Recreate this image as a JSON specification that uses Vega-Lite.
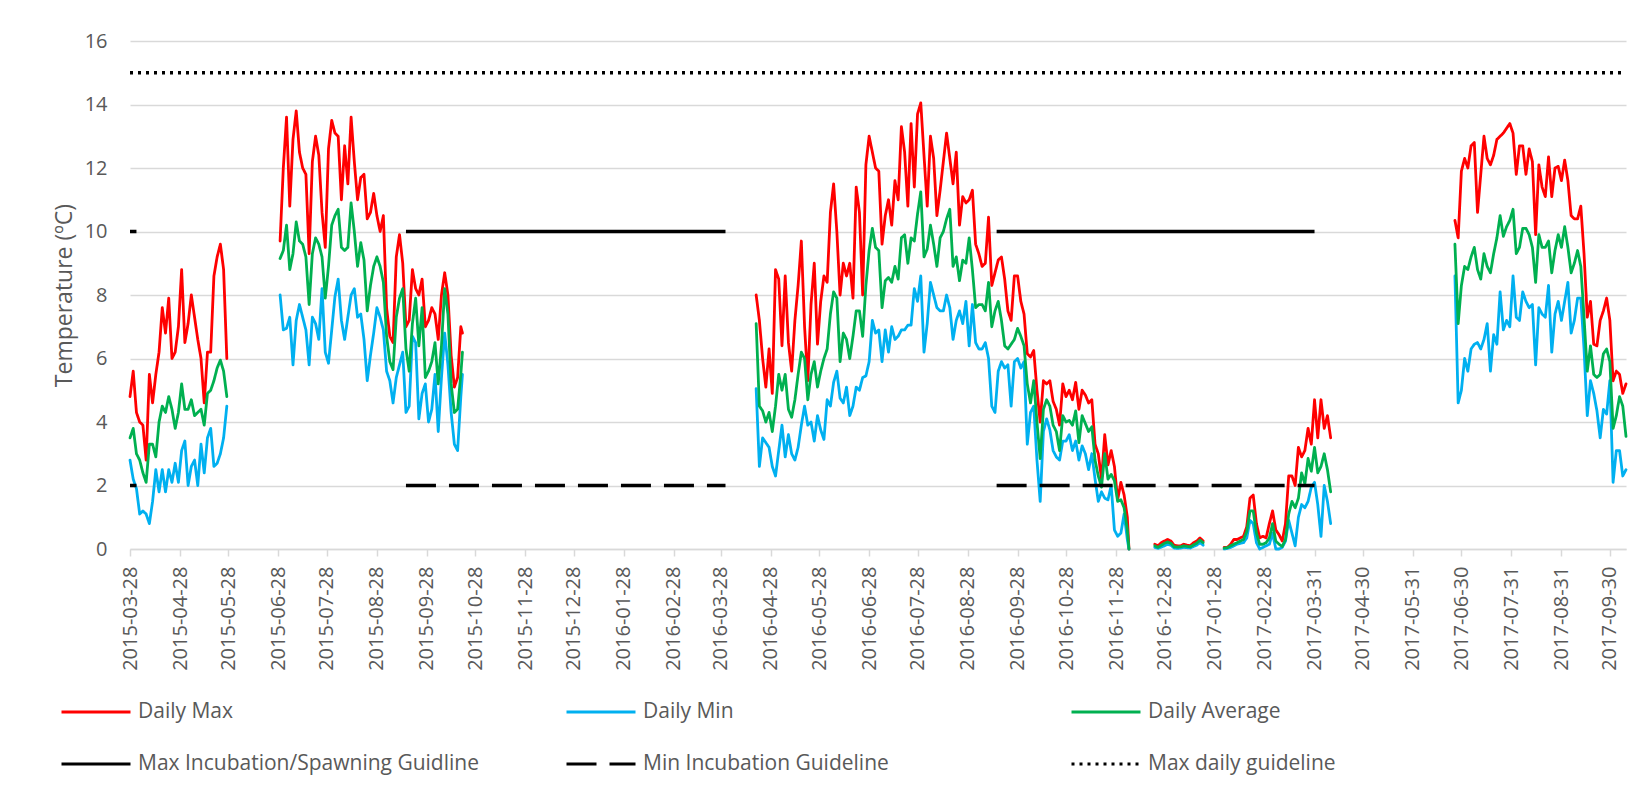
{
  "$schema": "https://vega.github.io/schema/vega-lite/v6.json",
  "width": 1496,
  "height": 508,
  "autosize": {"type": "none"},
  "padding": {"left": 130, "top": 41, "right": 12, "bottom": 242},
  "background": "white",
  "datasets": {
    "t": [
      {"d":"2015-03-28","mx":4.8,"mn":2.8,"av":3.5,"seg":1},
      {"d":"2015-03-30","mx":5.6,"mn":2.2,"av":3.8,"seg":1},
      {"d":"2015-04-01","mx":4.3,"mn":1.9,"av":3.0,"seg":1},
      {"d":"2015-04-03","mx":4.0,"mn":1.1,"av":2.8,"seg":1},
      {"d":"2015-04-05","mx":3.9,"mn":1.2,"av":2.4,"seg":1},
      {"d":"2015-04-07","mx":2.8,"mn":1.1,"av":2.1,"seg":1},
      {"d":"2015-04-09","mx":5.5,"mn":0.8,"av":3.3,"seg":1},
      {"d":"2015-04-11","mx":4.6,"mn":1.5,"av":3.3,"seg":1},
      {"d":"2015-04-13","mx":5.5,"mn":2.5,"av":2.9,"seg":1},
      {"d":"2015-04-15","mx":6.2,"mn":1.8,"av":4.0,"seg":1},
      {"d":"2015-04-17","mx":7.6,"mn":2.5,"av":4.5,"seg":1},
      {"d":"2015-04-19","mx":6.8,"mn":1.8,"av":4.3,"seg":1},
      {"d":"2015-04-21","mx":7.9,"mn":2.5,"av":4.8,"seg":1},
      {"d":"2015-04-23","mx":6.0,"mn":2.1,"av":4.4,"seg":1},
      {"d":"2015-04-25","mx":6.2,"mn":2.7,"av":3.8,"seg":1},
      {"d":"2015-04-27","mx":7.0,"mn":2.1,"av":4.3,"seg":1},
      {"d":"2015-04-29","mx":8.8,"mn":3.1,"av":5.2,"seg":1},
      {"d":"2015-05-01","mx":6.5,"mn":3.4,"av":4.4,"seg":1},
      {"d":"2015-05-03","mx":7.1,"mn":2.0,"av":4.4,"seg":1},
      {"d":"2015-05-05","mx":8.0,"mn":2.6,"av":4.7,"seg":1},
      {"d":"2015-05-07","mx":7.3,"mn":2.8,"av":4.2,"seg":1},
      {"d":"2015-05-09","mx":6.6,"mn":2.0,"av":4.3,"seg":1},
      {"d":"2015-05-11","mx":6.0,"mn":3.3,"av":4.4,"seg":1},
      {"d":"2015-05-13","mx":4.6,"mn":2.4,"av":3.9,"seg":1},
      {"d":"2015-05-15","mx":6.2,"mn":3.5,"av":4.9,"seg":1},
      {"d":"2015-05-17","mx":6.2,"mn":3.8,"av":5.0,"seg":1},
      {"d":"2015-05-19","mx":8.6,"mn":2.6,"av":5.3,"seg":1},
      {"d":"2015-05-21","mx":9.2,"mn":2.7,"av":5.7,"seg":1},
      {"d":"2015-05-23","mx":9.6,"mn":3.0,"av":5.95,"seg":1},
      {"d":"2015-05-25","mx":8.8,"mn":3.5,"av":5.6,"seg":1},
      {"d":"2015-05-27","mx":6.0,"mn":4.5,"av":4.8,"seg":1},
      {"d":"2015-06-29","mx":9.7,"mn":8.0,"av":9.15,"seg":2},
      {"d":"2015-07-01","mx":12.0,"mn":6.9,"av":9.4,"seg":2},
      {"d":"2015-07-03","mx":13.6,"mn":6.95,"av":10.2,"seg":2},
      {"d":"2015-07-05","mx":10.8,"mn":7.3,"av":8.8,"seg":2},
      {"d":"2015-07-07","mx":12.9,"mn":5.8,"av":9.3,"seg":2},
      {"d":"2015-07-09","mx":13.8,"mn":7.2,"av":10.3,"seg":2},
      {"d":"2015-07-11","mx":12.5,"mn":7.7,"av":9.7,"seg":2},
      {"d":"2015-07-13","mx":12.0,"mn":7.3,"av":9.6,"seg":2},
      {"d":"2015-07-15","mx":11.8,"mn":6.9,"av":9.2,"seg":2},
      {"d":"2015-07-17","mx":9.3,"mn":5.8,"av":7.7,"seg":2},
      {"d":"2015-07-19","mx":12.2,"mn":7.3,"av":9.3,"seg":2},
      {"d":"2015-07-21","mx":13.0,"mn":7.1,"av":9.8,"seg":2},
      {"d":"2015-07-23","mx":12.4,"mn":6.6,"av":9.6,"seg":2},
      {"d":"2015-07-25","mx":10.6,"mn":8.2,"av":9.2,"seg":2},
      {"d":"2015-07-27","mx":9.5,"mn":6.2,"av":7.9,"seg":2},
      {"d":"2015-07-29","mx":12.6,"mn":5.85,"av":8.9,"seg":2},
      {"d":"2015-07-31","mx":13.5,"mn":6.9,"av":10.2,"seg":2},
      {"d":"2015-08-02","mx":13.1,"mn":7.95,"av":10.5,"seg":2},
      {"d":"2015-08-04","mx":13.0,"mn":8.5,"av":10.7,"seg":2},
      {"d":"2015-08-06","mx":11.0,"mn":7.2,"av":9.5,"seg":2},
      {"d":"2015-08-08","mx":12.7,"mn":6.6,"av":9.4,"seg":2},
      {"d":"2015-08-10","mx":11.5,"mn":7.3,"av":9.5,"seg":2},
      {"d":"2015-08-12","mx":13.6,"mn":8.0,"av":10.9,"seg":2},
      {"d":"2015-08-14","mx":12.2,"mn":8.2,"av":10.0,"seg":2},
      {"d":"2015-08-16","mx":11.0,"mn":7.3,"av":8.9,"seg":2},
      {"d":"2015-08-18","mx":11.7,"mn":7.4,"av":9.65,"seg":2},
      {"d":"2015-08-20","mx":11.8,"mn":6.6,"av":9.1,"seg":2},
      {"d":"2015-08-22","mx":10.4,"mn":5.3,"av":7.5,"seg":2},
      {"d":"2015-08-24","mx":10.6,"mn":6.1,"av":8.3,"seg":2},
      {"d":"2015-08-26","mx":11.2,"mn":6.8,"av":8.9,"seg":2},
      {"d":"2015-08-28","mx":10.5,"mn":7.6,"av":9.2,"seg":2},
      {"d":"2015-08-30","mx":10.0,"mn":7.3,"av":8.9,"seg":2},
      {"d":"2015-09-01","mx":10.5,"mn":6.9,"av":8.4,"seg":2},
      {"d":"2015-09-03","mx":7.6,"mn":5.6,"av":6.7,"seg":2},
      {"d":"2015-09-05","mx":6.7,"mn":5.3,"av":5.9,"seg":2},
      {"d":"2015-09-07","mx":6.5,"mn":4.6,"av":5.65,"seg":2},
      {"d":"2015-09-09","mx":9.2,"mn":5.4,"av":7.3,"seg":2},
      {"d":"2015-09-11","mx":9.9,"mn":5.8,"av":7.9,"seg":2},
      {"d":"2015-09-13","mx":9.0,"mn":6.2,"av":8.2,"seg":2},
      {"d":"2015-09-15","mx":7.0,"mn":4.3,"av":6.3,"seg":2},
      {"d":"2015-09-17","mx":7.2,"mn":4.5,"av":5.6,"seg":2},
      {"d":"2015-09-19","mx":8.8,"mn":6.7,"av":7.1,"seg":2},
      {"d":"2015-09-21","mx":8.2,"mn":6.5,"av":7.9,"seg":2},
      {"d":"2015-09-23","mx":8.0,"mn":4.1,"av":6.4,"seg":2},
      {"d":"2015-09-25","mx":8.5,"mn":4.9,"av":7.6,"seg":2},
      {"d":"2015-09-27","mx":7.0,"mn":5.2,"av":5.4,"seg":2},
      {"d":"2015-09-29","mx":7.2,"mn":4.0,"av":5.6,"seg":2},
      {"d":"2015-10-01","mx":7.6,"mn":4.4,"av":5.9,"seg":2},
      {"d":"2015-10-03","mx":7.4,"mn":5.5,"av":6.5,"seg":2},
      {"d":"2015-10-05","mx":6.6,"mn":3.7,"av":5.2,"seg":2},
      {"d":"2015-10-07","mx":8.0,"mn":5.4,"av":6.4,"seg":2},
      {"d":"2015-10-09","mx":8.7,"mn":6.8,"av":8.2,"seg":2},
      {"d":"2015-10-11","mx":8.0,"mn":5.8,"av":7.4,"seg":2},
      {"d":"2015-10-13","mx":6.1,"mn":4.3,"av":5.2,"seg":2},
      {"d":"2015-10-15","mx":5.1,"mn":3.3,"av":4.3,"seg":2},
      {"d":"2015-10-17","mx":5.4,"mn":3.1,"av":4.4,"seg":2},
      {"d":"2015-10-19","mx":7.0,"mn":4.8,"av":5.5,"seg":2},
      {"d":"2015-10-20","mx":6.8,"mn":5.5,"av":6.2,"seg":2},
      {"d":"2016-04-19","mx":8.0,"mn":5.05,"av":7.1,"seg":3},
      {"d":"2016-04-21","mx":7.2,"mn":2.6,"av":4.5,"seg":3},
      {"d":"2016-04-23","mx":6.0,"mn":3.5,"av":4.35,"seg":3},
      {"d":"2016-04-25","mx":5.1,"mn":3.35,"av":4.0,"seg":3},
      {"d":"2016-04-27","mx":6.3,"mn":3.2,"av":4.3,"seg":3},
      {"d":"2016-04-29","mx":4.9,"mn":2.6,"av":3.7,"seg":3},
      {"d":"2016-05-01","mx":8.8,"mn":2.3,"av":4.5,"seg":3},
      {"d":"2016-05-03","mx":8.5,"mn":3.1,"av":5.5,"seg":3},
      {"d":"2016-05-05","mx":6.4,"mn":3.9,"av":5.0,"seg":3},
      {"d":"2016-05-07","mx":8.6,"mn":2.9,"av":5.5,"seg":3},
      {"d":"2016-05-09","mx":6.5,"mn":3.6,"av":4.4,"seg":3},
      {"d":"2016-05-11","mx":5.6,"mn":3.0,"av":4.15,"seg":3},
      {"d":"2016-05-13","mx":7.2,"mn":2.8,"av":4.7,"seg":3},
      {"d":"2016-05-15","mx":8.3,"mn":3.2,"av":5.5,"seg":3},
      {"d":"2016-05-17","mx":9.7,"mn":3.9,"av":6.2,"seg":3},
      {"d":"2016-05-19","mx":7.0,"mn":4.5,"av":6.0,"seg":3},
      {"d":"2016-05-21","mx":5.3,"mn":3.9,"av":4.7,"seg":3},
      {"d":"2016-05-23","mx":7.7,"mn":4.0,"av":5.5,"seg":3},
      {"d":"2016-05-25","mx":9.0,"mn":3.4,"av":5.9,"seg":3},
      {"d":"2016-05-27","mx":6.45,"mn":4.2,"av":5.1,"seg":3},
      {"d":"2016-05-29","mx":7.8,"mn":3.75,"av":5.6,"seg":3},
      {"d":"2016-05-31","mx":8.6,"mn":3.45,"av":6.0,"seg":3},
      {"d":"2016-06-02","mx":8.4,"mn":4.7,"av":6.3,"seg":3},
      {"d":"2016-06-04","mx":10.6,"mn":4.5,"av":7.4,"seg":3},
      {"d":"2016-06-06","mx":11.5,"mn":5.25,"av":8.1,"seg":3},
      {"d":"2016-06-08","mx":10.0,"mn":5.6,"av":7.9,"seg":3},
      {"d":"2016-06-10","mx":8.0,"mn":4.75,"av":5.9,"seg":3},
      {"d":"2016-06-12","mx":9.0,"mn":4.6,"av":6.8,"seg":3},
      {"d":"2016-06-14","mx":8.6,"mn":5.1,"av":6.6,"seg":3},
      {"d":"2016-06-16","mx":9.0,"mn":4.2,"av":6.0,"seg":3},
      {"d":"2016-06-18","mx":7.9,"mn":4.5,"av":6.7,"seg":3},
      {"d":"2016-06-20","mx":11.4,"mn":5.1,"av":7.5,"seg":3},
      {"d":"2016-06-22","mx":10.6,"mn":5.0,"av":7.5,"seg":3},
      {"d":"2016-06-24","mx":8.0,"mn":5.4,"av":6.7,"seg":3},
      {"d":"2016-06-26","mx":12.1,"mn":5.45,"av":8.3,"seg":3},
      {"d":"2016-06-28","mx":13.0,"mn":5.9,"av":9.4,"seg":3},
      {"d":"2016-06-30","mx":12.5,"mn":7.2,"av":10.1,"seg":3},
      {"d":"2016-07-02","mx":12.0,"mn":6.8,"av":9.5,"seg":3},
      {"d":"2016-07-04","mx":11.9,"mn":6.9,"av":9.4,"seg":3},
      {"d":"2016-07-06","mx":9.6,"mn":5.9,"av":7.6,"seg":3},
      {"d":"2016-07-08","mx":10.5,"mn":6.9,"av":8.45,"seg":3},
      {"d":"2016-07-10","mx":11.0,"mn":6.2,"av":8.55,"seg":3},
      {"d":"2016-07-12","mx":10.2,"mn":7.0,"av":8.4,"seg":3},
      {"d":"2016-07-14","mx":11.6,"mn":6.6,"av":8.9,"seg":3},
      {"d":"2016-07-16","mx":11.0,"mn":6.7,"av":8.5,"seg":3},
      {"d":"2016-07-18","mx":13.3,"mn":6.9,"av":9.8,"seg":3},
      {"d":"2016-07-20","mx":12.5,"mn":6.9,"av":9.9,"seg":3},
      {"d":"2016-07-22","mx":10.8,"mn":7.05,"av":9.0,"seg":3},
      {"d":"2016-07-24","mx":13.4,"mn":7.05,"av":9.8,"seg":3},
      {"d":"2016-07-26","mx":11.4,"mn":8.2,"av":9.7,"seg":3},
      {"d":"2016-07-28","mx":13.7,"mn":7.8,"av":10.55,"seg":3},
      {"d":"2016-07-30","mx":14.05,"mn":8.6,"av":11.25,"seg":3},
      {"d":"2016-08-01","mx":12.4,"mn":6.2,"av":9.2,"seg":3},
      {"d":"2016-08-03","mx":10.8,"mn":7.1,"av":9.45,"seg":3},
      {"d":"2016-08-05","mx":13.0,"mn":8.4,"av":10.2,"seg":3},
      {"d":"2016-08-07","mx":12.3,"mn":8.0,"av":9.6,"seg":3},
      {"d":"2016-08-09","mx":10.5,"mn":7.6,"av":8.9,"seg":3},
      {"d":"2016-08-11","mx":11.3,"mn":7.5,"av":9.8,"seg":3},
      {"d":"2016-08-13","mx":12.2,"mn":7.5,"av":10.0,"seg":3},
      {"d":"2016-08-15","mx":13.1,"mn":8.0,"av":10.4,"seg":3},
      {"d":"2016-08-17","mx":12.3,"mn":7.6,"av":10.7,"seg":3},
      {"d":"2016-08-19","mx":11.5,"mn":6.6,"av":8.9,"seg":3},
      {"d":"2016-08-21","mx":12.5,"mn":7.2,"av":9.2,"seg":3},
      {"d":"2016-08-23","mx":10.2,"mn":7.5,"av":8.45,"seg":3},
      {"d":"2016-08-25","mx":11.1,"mn":7.1,"av":9.1,"seg":3},
      {"d":"2016-08-27","mx":10.9,"mn":7.8,"av":9.0,"seg":3},
      {"d":"2016-08-29","mx":11.0,"mn":6.4,"av":9.8,"seg":3},
      {"d":"2016-08-31","mx":11.3,"mn":7.7,"av":8.8,"seg":3},
      {"d":"2016-09-02","mx":9.6,"mn":6.5,"av":7.6,"seg":3},
      {"d":"2016-09-04","mx":9.3,"mn":6.3,"av":7.7,"seg":3},
      {"d":"2016-09-06","mx":8.9,"mn":6.3,"av":7.7,"seg":3},
      {"d":"2016-09-08","mx":9.0,"mn":6.5,"av":7.5,"seg":3},
      {"d":"2016-09-10","mx":10.45,"mn":6.0,"av":8.4,"seg":3},
      {"d":"2016-09-12","mx":8.3,"mn":4.5,"av":7.0,"seg":3},
      {"d":"2016-09-14","mx":8.7,"mn":4.3,"av":7.5,"seg":3},
      {"d":"2016-09-16","mx":9.1,"mn":5.6,"av":7.8,"seg":3},
      {"d":"2016-09-18","mx":9.2,"mn":5.9,"av":7.2,"seg":3},
      {"d":"2016-09-20","mx":8.5,"mn":5.7,"av":6.4,"seg":3},
      {"d":"2016-09-22","mx":7.5,"mn":5.8,"av":6.3,"seg":3},
      {"d":"2016-09-24","mx":7.2,"mn":4.5,"av":6.45,"seg":3},
      {"d":"2016-09-26","mx":8.6,"mn":5.9,"av":6.6,"seg":3},
      {"d":"2016-09-28","mx":8.6,"mn":6.0,"av":6.95,"seg":3},
      {"d":"2016-09-30","mx":7.8,"mn":5.7,"av":6.7,"seg":3},
      {"d":"2016-10-02","mx":7.4,"mn":5.9,"av":6.4,"seg":3},
      {"d":"2016-10-04","mx":6.15,"mn":3.3,"av":5.2,"seg":3},
      {"d":"2016-10-06","mx":6.05,"mn":4.3,"av":4.6,"seg":3},
      {"d":"2016-10-08","mx":6.25,"mn":4.5,"av":5.3,"seg":3},
      {"d":"2016-10-10","mx":5.0,"mn":2.8,"av":4.0,"seg":3},
      {"d":"2016-10-12","mx":4.0,"mn":1.5,"av":2.85,"seg":3},
      {"d":"2016-10-14","mx":5.3,"mn":3.7,"av":4.4,"seg":3},
      {"d":"2016-10-16","mx":5.2,"mn":4.1,"av":4.7,"seg":3},
      {"d":"2016-10-18","mx":5.3,"mn":3.75,"av":4.5,"seg":3},
      {"d":"2016-10-20","mx":4.65,"mn":3.1,"av":3.9,"seg":3},
      {"d":"2016-10-22","mx":4.4,"mn":2.9,"av":3.7,"seg":3},
      {"d":"2016-10-24","mx":3.9,"mn":2.8,"av":3.1,"seg":3},
      {"d":"2016-10-26","mx":5.2,"mn":3.4,"av":4.2,"seg":3},
      {"d":"2016-10-28","mx":4.8,"mn":3.4,"av":4.0,"seg":3},
      {"d":"2016-10-30","mx":5.0,"mn":3.6,"av":4.05,"seg":3},
      {"d":"2016-11-01","mx":4.7,"mn":3.1,"av":3.9,"seg":3},
      {"d":"2016-11-03","mx":5.25,"mn":3.4,"av":4.35,"seg":3},
      {"d":"2016-11-05","mx":4.4,"mn":2.8,"av":3.35,"seg":3},
      {"d":"2016-11-07","mx":5.0,"mn":3.25,"av":4.2,"seg":3},
      {"d":"2016-11-09","mx":4.85,"mn":3.0,"av":3.95,"seg":3},
      {"d":"2016-11-11","mx":4.6,"mn":2.5,"av":3.7,"seg":3},
      {"d":"2016-11-13","mx":4.7,"mn":3.0,"av":3.85,"seg":3},
      {"d":"2016-11-15","mx":3.3,"mn":2.2,"av":2.8,"seg":3},
      {"d":"2016-11-17","mx":3.0,"mn":1.5,"av":2.3,"seg":3},
      {"d":"2016-11-19","mx":2.2,"mn":1.8,"av":1.95,"seg":3},
      {"d":"2016-11-21","mx":3.6,"mn":1.6,"av":3.0,"seg":3},
      {"d":"2016-11-23","mx":2.65,"mn":1.55,"av":2.2,"seg":3},
      {"d":"2016-11-25","mx":3.1,"mn":2.0,"av":2.35,"seg":3},
      {"d":"2016-11-27","mx":2.6,"mn":0.6,"av":2.15,"seg":3},
      {"d":"2016-11-29","mx":1.55,"mn":0.4,"av":1.5,"seg":3},
      {"d":"2016-12-01","mx":2.1,"mn":0.5,"av":1.55,"seg":3},
      {"d":"2016-12-03","mx":1.7,"mn":1.1,"av":1.3,"seg":3},
      {"d":"2016-12-05","mx":1.0,"mn":0.3,"av":0.6,"seg":3},
      {"d":"2016-12-06","mx":0.0,"mn":0.0,"av":0.0,"seg":3},
      {"d":"2016-12-22","mx":0.15,"mn":0.05,"av":0.1,"seg":4},
      {"d":"2016-12-24","mx":0.1,"mn":0.02,"av":0.05,"seg":4},
      {"d":"2016-12-26","mx":0.2,"mn":0.06,"av":0.12,"seg":4},
      {"d":"2016-12-28","mx":0.25,"mn":0.1,"av":0.18,"seg":4},
      {"d":"2016-12-30","mx":0.3,"mn":0.15,"av":0.22,"seg":4},
      {"d":"2017-01-01","mx":0.25,"mn":0.12,"av":0.18,"seg":4},
      {"d":"2017-01-03","mx":0.12,"mn":0.03,"av":0.07,"seg":4},
      {"d":"2017-01-05","mx":0.1,"mn":0.02,"av":0.06,"seg":4},
      {"d":"2017-01-07","mx":0.1,"mn":0.03,"av":0.07,"seg":4},
      {"d":"2017-01-09","mx":0.15,"mn":0.05,"av":0.1,"seg":4},
      {"d":"2017-01-11","mx":0.12,"mn":0.04,"av":0.08,"seg":4},
      {"d":"2017-01-13","mx":0.1,"mn":0.03,"av":0.07,"seg":4},
      {"d":"2017-01-15","mx":0.2,"mn":0.08,"av":0.13,"seg":4},
      {"d":"2017-01-17","mx":0.25,"mn":0.12,"av":0.18,"seg":4},
      {"d":"2017-01-19","mx":0.35,"mn":0.2,"av":0.28,"seg":4},
      {"d":"2017-01-21","mx":0.25,"mn":0.12,"av":0.2,"seg":4},
      {"d":"2017-02-03","mx":0.05,"mn":0.0,"av":0.03,"seg":5},
      {"d":"2017-02-05","mx":0.05,"mn":0.02,"av":0.04,"seg":5},
      {"d":"2017-02-07","mx":0.15,"mn":0.05,"av":0.1,"seg":5},
      {"d":"2017-02-09","mx":0.3,"mn":0.1,"av":0.15,"seg":5},
      {"d":"2017-02-11","mx":0.3,"mn":0.15,"av":0.2,"seg":5},
      {"d":"2017-02-13","mx":0.35,"mn":0.18,"av":0.25,"seg":5},
      {"d":"2017-02-15","mx":0.4,"mn":0.2,"av":0.3,"seg":5},
      {"d":"2017-02-17","mx":0.7,"mn":0.35,"av":0.55,"seg":5},
      {"d":"2017-02-19","mx":1.6,"mn":0.9,"av":1.2,"seg":5},
      {"d":"2017-02-21","mx":1.7,"mn":0.8,"av":1.2,"seg":5},
      {"d":"2017-02-23","mx":0.8,"mn":0.2,"av":0.5,"seg":5},
      {"d":"2017-02-25","mx":0.35,"mn":0.0,"av":0.15,"seg":5},
      {"d":"2017-02-27","mx":0.4,"mn":0.05,"av":0.15,"seg":5},
      {"d":"2017-03-01","mx":0.35,"mn":0.1,"av":0.2,"seg":5},
      {"d":"2017-03-03","mx":0.8,"mn":0.15,"av":0.35,"seg":5},
      {"d":"2017-03-05","mx":1.2,"mn":0.5,"av":0.8,"seg":5},
      {"d":"2017-03-07","mx":0.6,"mn":0.0,"av":0.25,"seg":5},
      {"d":"2017-03-09","mx":0.45,"mn":0.0,"av":0.15,"seg":5},
      {"d":"2017-03-11","mx":0.25,"mn":0.05,"av":0.08,"seg":5},
      {"d":"2017-03-13","mx":0.8,"mn":0.25,"av":0.3,"seg":5},
      {"d":"2017-03-15","mx":2.3,"mn":0.9,"av":1.1,"seg":5},
      {"d":"2017-03-17","mx":2.3,"mn":0.5,"av":1.5,"seg":5},
      {"d":"2017-03-19","mx":2.0,"mn":0.1,"av":1.3,"seg":5},
      {"d":"2017-03-21","mx":3.2,"mn":1.0,"av":1.6,"seg":5},
      {"d":"2017-03-23","mx":2.9,"mn":1.4,"av":2.4,"seg":5},
      {"d":"2017-03-25","mx":3.1,"mn":1.3,"av":2.05,"seg":5},
      {"d":"2017-03-27","mx":3.8,"mn":1.5,"av":2.85,"seg":5},
      {"d":"2017-03-29","mx":3.3,"mn":1.95,"av":2.45,"seg":5},
      {"d":"2017-03-31","mx":4.7,"mn":2.1,"av":3.2,"seg":5},
      {"d":"2017-04-02","mx":3.5,"mn":1.4,"av":2.4,"seg":5},
      {"d":"2017-04-04","mx":4.7,"mn":0.4,"av":2.6,"seg":5},
      {"d":"2017-04-06","mx":3.8,"mn":2.0,"av":3.0,"seg":5},
      {"d":"2017-04-08","mx":4.2,"mn":1.5,"av":2.5,"seg":5},
      {"d":"2017-04-10","mx":3.5,"mn":0.8,"av":1.8,"seg":5},
      {"d":"2017-06-26","mx":10.35,"mn":8.6,"av":9.6,"seg":6},
      {"d":"2017-06-28","mx":9.8,"mn":4.6,"av":7.1,"seg":6},
      {"d":"2017-06-30","mx":11.9,"mn":5.0,"av":8.3,"seg":6},
      {"d":"2017-07-02","mx":12.3,"mn":6.0,"av":8.9,"seg":6},
      {"d":"2017-07-04","mx":12.0,"mn":5.6,"av":8.8,"seg":6},
      {"d":"2017-07-06","mx":12.7,"mn":6.3,"av":9.2,"seg":6},
      {"d":"2017-07-08","mx":12.8,"mn":6.45,"av":9.5,"seg":6},
      {"d":"2017-07-10","mx":10.6,"mn":6.5,"av":8.8,"seg":6},
      {"d":"2017-07-12","mx":11.8,"mn":6.3,"av":8.5,"seg":6},
      {"d":"2017-07-14","mx":13.0,"mn":6.6,"av":9.3,"seg":6},
      {"d":"2017-07-16","mx":12.3,"mn":7.1,"av":8.9,"seg":6},
      {"d":"2017-07-18","mx":12.1,"mn":5.6,"av":8.7,"seg":6},
      {"d":"2017-07-20","mx":12.4,"mn":6.75,"av":9.3,"seg":6},
      {"d":"2017-07-22","mx":12.9,"mn":6.45,"av":9.8,"seg":6},
      {"d":"2017-07-24","mx":13.0,"mn":8.1,"av":10.5,"seg":6},
      {"d":"2017-07-26","mx":13.1,"mn":6.9,"av":9.85,"seg":6},
      {"d":"2017-07-28","mx":13.25,"mn":7.2,"av":10.15,"seg":6},
      {"d":"2017-07-30","mx":13.4,"mn":7.0,"av":10.35,"seg":6},
      {"d":"2017-08-01","mx":13.1,"mn":8.6,"av":10.7,"seg":6},
      {"d":"2017-08-03","mx":11.8,"mn":7.3,"av":9.3,"seg":6},
      {"d":"2017-08-05","mx":12.7,"mn":7.2,"av":9.5,"seg":6},
      {"d":"2017-08-07","mx":12.7,"mn":8.1,"av":10.1,"seg":6},
      {"d":"2017-08-09","mx":11.8,"mn":7.8,"av":10.1,"seg":6},
      {"d":"2017-08-11","mx":12.6,"mn":7.6,"av":9.9,"seg":6},
      {"d":"2017-08-13","mx":12.2,"mn":7.7,"av":9.5,"seg":6},
      {"d":"2017-08-15","mx":9.9,"mn":5.8,"av":8.4,"seg":6},
      {"d":"2017-08-17","mx":12.1,"mn":7.6,"av":9.9,"seg":6},
      {"d":"2017-08-19","mx":11.4,"mn":7.4,"av":9.5,"seg":6},
      {"d":"2017-08-21","mx":11.1,"mn":7.3,"av":9.5,"seg":6},
      {"d":"2017-08-23","mx":12.35,"mn":8.3,"av":9.7,"seg":6},
      {"d":"2017-08-25","mx":11.1,"mn":6.2,"av":8.7,"seg":6},
      {"d":"2017-08-27","mx":12.0,"mn":7.4,"av":9.4,"seg":6},
      {"d":"2017-08-29","mx":12.05,"mn":7.8,"av":9.9,"seg":6},
      {"d":"2017-08-31","mx":11.6,"mn":7.2,"av":9.5,"seg":6},
      {"d":"2017-09-02","mx":12.25,"mn":7.8,"av":10.15,"seg":6},
      {"d":"2017-09-04","mx":11.6,"mn":8.4,"av":9.5,"seg":6},
      {"d":"2017-09-06","mx":10.5,"mn":6.8,"av":8.7,"seg":6},
      {"d":"2017-09-08","mx":10.4,"mn":7.2,"av":9.0,"seg":6},
      {"d":"2017-09-10","mx":10.4,"mn":7.9,"av":9.4,"seg":6},
      {"d":"2017-09-12","mx":10.8,"mn":7.9,"av":8.9,"seg":6},
      {"d":"2017-09-14","mx":9.3,"mn":6.3,"av":7.3,"seg":6},
      {"d":"2017-09-16","mx":7.3,"mn":4.2,"av":5.6,"seg":6},
      {"d":"2017-09-18","mx":7.8,"mn":5.3,"av":6.4,"seg":6},
      {"d":"2017-09-20","mx":6.45,"mn":4.9,"av":5.5,"seg":6},
      {"d":"2017-09-22","mx":6.4,"mn":4.35,"av":5.4,"seg":6},
      {"d":"2017-09-24","mx":7.2,"mn":3.5,"av":5.5,"seg":6},
      {"d":"2017-09-26","mx":7.5,"mn":4.4,"av":6.15,"seg":6},
      {"d":"2017-09-28","mx":7.9,"mn":4.25,"av":6.3,"seg":6},
      {"d":"2017-09-30","mx":7.2,"mn":5.3,"av":5.9,"seg":6},
      {"d":"2017-10-02","mx":5.3,"mn":2.1,"av":3.8,"seg":6},
      {"d":"2017-10-04","mx":5.6,"mn":3.1,"av":4.2,"seg":6},
      {"d":"2017-10-06","mx":5.5,"mn":3.1,"av":4.8,"seg":6},
      {"d":"2017-10-08","mx":4.9,"mn":2.3,"av":4.5,"seg":6},
      {"d":"2017-10-10","mx":5.2,"mn":2.5,"av":3.55,"seg":6}
    ],
    "g": [
      {"d":"2015-03-28","s":"g1","v":10,"seg":1},
      {"d":"2015-04-01","s":"g1","v":10,"seg":1},
      {"d":"2015-09-15","s":"g1","v":10,"seg":2},
      {"d":"2016-03-31","s":"g1","v":10,"seg":2},
      {"d":"2016-09-15","s":"g1","v":10,"seg":3},
      {"d":"2017-03-31","s":"g1","v":10,"seg":3},
      {"d":"2015-03-28","s":"g2","v":2,"seg":1},
      {"d":"2015-04-01","s":"g2","v":2,"seg":1},
      {"d":"2015-09-15","s":"g2","v":2,"seg":2},
      {"d":"2016-03-31","s":"g2","v":2,"seg":2},
      {"d":"2016-09-15","s":"g2","v":2,"seg":3},
      {"d":"2017-03-31","s":"g2","v":2,"seg":3},
      {"d":"2015-03-28","s":"g3","v":15,"seg":1},
      {"d":"2017-10-10","s":"g3","v":15,"seg":1}
    ]
  },
  "encoding": {
    "x": {
      "field": "d", "type": "temporal",
      "scale": {"type": "utc", "domain": [{"year":2015,"month":3,"date":28,"utc":true},{"year":2017,"month":10,"date":10,"utc":true}]},
      "axis": {
        "title": null, "grid": false,
        "labelExpr": "utcFormat(datum.value, '%Y-%m-%d')",
        "labelAngle": -90, "labelOverlap": false, "labelFlush": false, "labelBound": false,
        "tickSize": 7, "tickWidth": 1.5, "domainWidth": 1.5, "labelPadding": 10,
        "values": [
          {"year":2015,"month":3,"date":28,"utc":true},{"year":2015,"month":4,"date":28,"utc":true},{"year":2015,"month":5,"date":28,"utc":true},{"year":2015,"month":6,"date":28,"utc":true},{"year":2015,"month":7,"date":28,"utc":true},{"year":2015,"month":8,"date":28,"utc":true},{"year":2015,"month":9,"date":28,"utc":true},{"year":2015,"month":10,"date":28,"utc":true},{"year":2015,"month":11,"date":28,"utc":true},{"year":2015,"month":12,"date":28,"utc":true},
          {"year":2016,"month":1,"date":28,"utc":true},{"year":2016,"month":2,"date":28,"utc":true},{"year":2016,"month":3,"date":28,"utc":true},{"year":2016,"month":4,"date":28,"utc":true},{"year":2016,"month":5,"date":28,"utc":true},{"year":2016,"month":6,"date":28,"utc":true},{"year":2016,"month":7,"date":28,"utc":true},{"year":2016,"month":8,"date":28,"utc":true},{"year":2016,"month":9,"date":28,"utc":true},{"year":2016,"month":10,"date":28,"utc":true},{"year":2016,"month":11,"date":28,"utc":true},{"year":2016,"month":12,"date":28,"utc":true},
          {"year":2017,"month":1,"date":28,"utc":true},{"year":2017,"month":2,"date":28,"utc":true},{"year":2017,"month":3,"date":31,"utc":true},{"year":2017,"month":4,"date":30,"utc":true},{"year":2017,"month":5,"date":31,"utc":true},{"year":2017,"month":6,"date":30,"utc":true},{"year":2017,"month":7,"date":31,"utc":true},{"year":2017,"month":8,"date":31,"utc":true},{"year":2017,"month":9,"date":30,"utc":true}
        ]
      }
    },
    "y": {
      "field": "v", "type": "quantitative",
      "scale": {"domain": [0, 16], "nice": false, "zero": true},
      "axis": {
        "title": "Temperature (ºC)", "titleFontSize": 23, "titlePadding": 8,
        "values": [0, 2, 4, 6, 8, 10, 12, 14, 16],
        "domain": false, "ticks": false, "labelPadding": 23, "grid": true
      }
    },
    "color": {
      "field": "s", "type": "nominal",
      "scale": {"domain": ["mx","mn","av","g1","g2","g3"], "range": ["#FF0000","#00B0F0","#00B050","#000000","#000000","#000000"]},
      "legend": {"labelExpr": "datum.value == 'mx' ? 'Daily Max' : datum.value == 'mn' ? 'Daily Min' : datum.value == 'av' ? 'Daily Average' : datum.value == 'g1' ? 'Max Incubation/Spawning Guidline' : datum.value == 'g2' ? 'Min Incubation Guideline' : 'Max daily guideline'"}
    },
    "strokeDash": {
      "field": "s", "type": "nominal",
      "scale": {"domain": ["mx","mn","av","g1","g2","g3"], "range": [[1,0],[1,0],[1,0],[1,0],[30,13],[3,5]]},
      "legend": {"labelExpr": "datum.value == 'mx' ? 'Daily Max' : datum.value == 'mn' ? 'Daily Min' : datum.value == 'av' ? 'Daily Average' : datum.value == 'g1' ? 'Max Incubation/Spawning Guidline' : datum.value == 'g2' ? 'Min Incubation Guideline' : 'Max daily guideline'"}
    },
    "detail": {"field": "seg", "type": "nominal"}
  },
  "layer": [
    {
      "data": {"name": "t"},
      "transform": [{"fold": ["mx", "mn", "av"], "as": ["s", "v"]}],
      "mark": {"type": "line", "strokeWidth": 2.8, "strokeJoin": "round", "strokeCap": "round"}
    },
    {
      "data": {"name": "g"},
      "mark": {"type": "line", "strokeWidth": 3.5, "strokeCap": "butt"}
    }
  ],
  "config": {
    "font": "Open Sans",
    "view": {"stroke": null},
    "axis": {
      "labelFont": "Open Sans", "labelFontSize": 20, "labelColor": "#595959",
      "titleFont": "Open Sans", "titleColor": "#595959", "titleFontWeight": "normal",
      "gridColor": "#D9D9D9", "gridWidth": 1.5, "domainColor": "#D9D9D9", "tickColor": "#D9D9D9"
    },
    "legend": {
      "orient": "none", "legendX": -70, "legendY": 660, "direction": "horizontal",
      "columns": 3, "gridAlign": "all", "columnPadding": 86, "rowPadding": 30,
      "symbolType": "stroke", "symbolSize": 4761, "symbolStrokeWidth": 3,
      "clipHeight": 22, "padding": 0, "title": null,
      "labelFont": "Open Sans", "labelFontSize": 21, "labelColor": "#595959",
      "labelOffset": 6, "labelLimit": 600
    }
  }
}
